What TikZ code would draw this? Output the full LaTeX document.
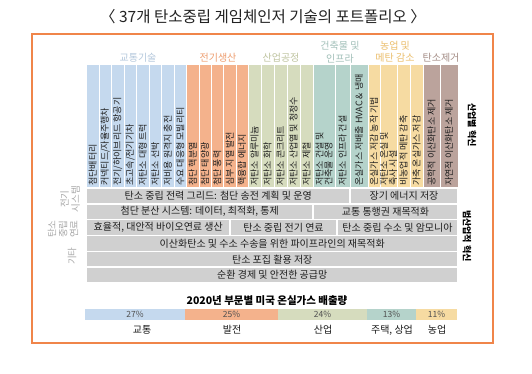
\documentclass[tikz,border=0pt]{standalone}
\usepackage{fontspec}
\setmainfont{Noto Sans CJK KR}
\definecolor{framec}{HTML}{F0854A}
\definecolor{titlec}{HTML}{222222}
\definecolor{cb}{HTML}{C5D9EE}
\definecolor{co}{HTML}{F4B28C}
\definecolor{cg}{HTML}{D6DCBE}
\definecolor{ct}{HTML}{B5D3CB}
\definecolor{cy}{HTML}{F6DBA2}
\definecolor{cbr}{HTML}{BBA39C}
\definecolor{hb}{HTML}{B4C8DC}
\definecolor{ho}{HTML}{EE9E70}
\definecolor{hg}{HTML}{BFC4A0}
\definecolor{ht}{HTML}{A2C0B9}
\definecolor{hy}{HTML}{EBBE6C}
\definecolor{hbr}{HTML}{A48D86}
\definecolor{rowc}{HTML}{D0D0D0}
\definecolor{lblc}{HTML}{A8A8A8}
\definecolor{pctc}{HTML}{505050}
\tikzset{
  hdr/.style={font=\fontsize{10}{12.5}\selectfont, inner sep=0pt},
  coltext/.style={rotate=90, anchor=west, inner sep=0pt, align=left,
     font=\fontsize{9}{9.2}\selectfont, text=black!88},
  rowtext/.style={inner sep=0pt, font=\fontsize{10}{11}\selectfont, text=black!88},
  sidelbl/.style={rotate=90, inner sep=0pt, align=center, text=lblc,
     font=\fontsize{9.5}{11}\selectfont},
  rightlbl/.style={rotate=-90, inner sep=0pt, font=\bfseries\fontsize{9}{10}\selectfont},
  pct/.style={inner sep=0pt, text=pctc, font=\fontsize{8.5}{9}\selectfont},
  seclbl/.style={inner sep=0pt, text=black!90, font=\fontsize{10}{11}\selectfont},
  sep/.style={white, line width=0.9pt}
}
\newcommand\colbox[5]{%
  \fill[#3] (#1,65) rectangle (#2,188);
  \draw[sep] (#1,65) -- (#1,188);
  \node[coltext] (#4) at ({(#1+#2)/2},186) {#5};
}
\newcommand\rowbox[6]{%
  \fill[rowc] (#1,#2) rectangle (#3,#4);
  \draw[white, line width=1.2pt] (#1,#2) rectangle (#3,#4);
  \node[rowtext] (#5) at ({(#1+#3)/2},{(#2+#4)/2}) {#6};
}
\begin{document}
\begin{tikzpicture}[x=1pt,y=-1pt]
\useasboundingbox (0,0) rectangle (532,374);
\fill[white] (0,0) rectangle (532,374);
\node[font=\fontsize{15.5}{17}\selectfont, text=titlec, inner sep=0pt] (title) at (263,17) {〈 37개 탄소중립 게임체인저 기술의 포트폴리오 〉};
\draw[framec, line width=1.8pt] (32,34) rectangle (493,343);
% headers
\node[hdr, text=hb] (h1) at (138,58) {교통기술};
\node[hdr, text=ho] (h2) at (218,58) {전기생산};
\node[hdr, text=hg] (h3) at (281,58) {산업공정};
\node[hdr, text=ht, align=center] (h4) at (340,52) {건축물 및\\인프라};
\node[hdr, text=hy, align=center] (h5) at (395,52) {농업 및\\메탄 감소};
\node[hdr, text=hbr] (h6) at (441,58) {탄소제거};
% columns
\colbox{86.5}{99}{cb}{c1}{첨단배터리}
\colbox{99}{111.5}{cb}{c2}{커넥티드/자율주행차}
\colbox{111.5}{124}{cb}{c3}{전기/하이브리드 항공기}
\colbox{124}{136.5}{cb}{c4}{초고속/전기기차}
\colbox{136.5}{149}{cb}{c5}{저탄소 대형 트럭}
\colbox{149}{161.5}{cb}{c6}{저탄소 선박}
\colbox{161.5}{174}{cb}{c7}{저비용 원격지 충전}
\colbox{174}{186.5}{cb}{c8}{수요 대응형 모빌리티}
\colbox{186.5}{199}{co}{c9}{첨단 핵분열}
\colbox{199}{211}{co}{c10}{첨단 태양광}
\colbox{211}{223.5}{co}{c11}{첨단 풍력}
\colbox{223.5}{236}{co}{c12}{심부 지열 발전}
\colbox{236}{248}{co}{c13}{핵융합 에너지}
\colbox{248}{261}{cg}{c14}{저탄소 알루미늄}
\colbox{261}{274}{cg}{c15}{저탄소 화학}
\colbox{274}{287}{cg}{c16}{저탄소 콘크리트}
\colbox{287}{300}{cg}{c17}{저탄소 산업열 및 청정수}
\colbox{300}{313}{cg}{c18}{저탄소 제철}
\colbox{313}{335}{ct}{c19}{저탄소 건설 및\\건축물 운영}
\colbox{335}{350}{ct}{c20}{저탄소 인프라 건설}
\colbox{350}{368}{ct}{c21}{온실가스 저배출 HVAC \& 냉매}
\colbox{368}{380}{cy}{c22}{온실가스 저감 농작 기법}
\colbox{380}{397}{cy}{c23}{저탄소 온실 및\\축사 시설}
\colbox{397}{410}{cy}{c24}{비농업적 메탄 감축}
\colbox{410}{423}{cy}{c25}{가축 온실가스 저감}
\colbox{423}{440}{cbr}{c26}{공학적 이산화탄소 제거}
\colbox{440}{458}{cbr}{c27}{자연적 이산화탄소 제거}
% rows
\rowbox{86.5}{188}{350}{204}{r1a}{탄소 중립 전력 그리드: 첨단 송전 계획 및 운영}
\rowbox{350}{188}{458}{204}{r1b}{장기 에너지 저장}
\rowbox{86.5}{204}{313}{219.5}{r2a}{첨단 분산 시스템: 데이터, 최적화, 통제}
\rowbox{313}{204}{458}{219.5}{r2b}{교통 통행권 재목적화}
\rowbox{86.5}{219.5}{230}{235.5}{r3a}{효율적, 대안적 바이오연료 생산}
\rowbox{230}{219.5}{337}{235.5}{r3b}{탄소 중립 전기 연료}
\rowbox{337}{219.5}{458}{235.5}{r3c}{탄소 중립 수소 및 암모니아}
\rowbox{86.5}{235.5}{458}{251.5}{r4}{이산화탄소 및 수소 수송을 위한 파이프라인의 재목적화}
\rowbox{86.5}{251.5}{458}{267}{r5}{탄소 포집 활용 저장}
\rowbox{86.5}{267}{458}{283}{r6}{순환 경제 및 안전한 공급망}
% side labels
\node[sidelbl] (l1) at (70,199) {전기\\시스템};
\node[sidelbl] (l2) at (63,229) {탄소\\중립\\연료};
\node[sidelbl] (l3) at (72,256) {기타};
\node[rightlbl] (rl1) at (472,125) {산업별 혁신};
\node[rightlbl] (rl2) at (467,236) {범산업적 혁신};
% bottom chart
\node[inner sep=0pt, font=\bfseries\fontsize{10.5}{11}\selectfont] (ct) at (267,301) {2020년 부문별 미국 온실가스 배출량};
\fill[cb] (85,309) rectangle (185,320);
\fill[co] (185,309) rectangle (278,320);
\fill[cg] (278,309) rectangle (367,320);
\fill[ct] (367,309) rectangle (416,320);
\fill[cy] (416,309) rectangle (457,320);
\node[pct] (p1) at (135,314.5) {27\%};
\node[pct] (p2) at (231.5,314.5) {25\%};
\node[pct] (p3) at (322.5,314.5) {24\%};
\node[pct] (p4) at (391.5,314.5) {13\%};
\node[pct] (p5) at (436.5,314.5) {11\%};
\node[seclbl] (s1) at (142,330) {교통};
\node[seclbl] (s2) at (232,330) {발전};
\node[seclbl] (s3) at (323,330) {산업};
\node[seclbl] (s4) at (392,330) {주택, 상업};
\node[seclbl] (s5) at (437,330) {농업};
\end{tikzpicture}
\end{document}
